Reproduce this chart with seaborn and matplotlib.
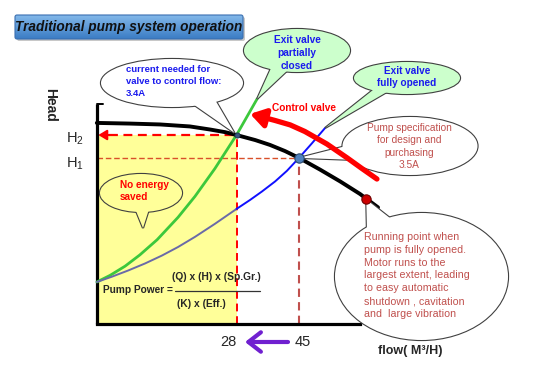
import numpy as np
import matplotlib
matplotlib.use("Agg")
import matplotlib.pyplot as plt
import matplotlib.transforms as mtransforms
from matplotlib import font_manager
from matplotlib.patches import Ellipse, Polygon, FancyBboxPatch
from matplotlib.colors import LinearSegmentedColormap
import seaborn as sns

sns.set_style("white")
plt.rcParams["font.family"] = ["Liberation Sans", "DejaVu Sans"]
installed = {f.name for f in font_manager.fontManager.ttflist}
narrow = "Liberation Sans Narrow" if "Liberation Sans Narrow" in installed else "Liberation Sans"

# pump curve and system curves, flow (x) vs head (y, arbitrary units)
pump_flow = [-10, -1, 7.2, 15.3, 20.8, 24.9, 28, 33.1, 37.1, 41.2, 45, 50.7, 56.2, 61.6, 66.5]
pump_head = [91.4, 91.1, 90.7, 89.8, 88.4, 87.2, 85.9, 83.6, 81.4, 78.6, 75.5, 70.2, 64.8, 59.1, 53.0]
closed_flow = [-10, -6.4, -2.3, 1.7, 6.4, 12.1, 16.7, 22.1, 28, 33.6]
closed_head = [19.1, 22.1, 26.3, 31.4, 38.3, 48.5, 58.0, 70.6, 85.9, 102.3]
open_flow = [-10, -5.9, -1.5, 3.1, 7.7, 12.1, 16.7, 22.1, 28, 31.7, 34.9, 38.5, 41.7, 45, 48.5, 52.1]
open_head = [19.1, 21.5, 24.3, 27.5, 31.1, 35.0, 39.6, 45.5, 52.3, 56.4, 60.2, 64.8, 69.6, 75.5, 82.1, 89.1]
valve_flow = [66.2, 62.1, 58.1, 52.6, 46.6, 42.6, 38.5, 34.9]
valve_head = [65.9, 70.7, 75.5, 81.8, 87.5, 90.5, 92.5, 94.1]
valve_tip = (31.7, 95.5)

q_partial, q_full = 28, 45
h2, h1 = 85.9, 75.5
run_point = (63.3, 56.6)
flow_ticks = [28, 45]
flow_max = 61.6
head_max = 100

fig = plt.figure(figsize=(5.35, 3.72), dpi=100)
ax = fig.add_axes([0, 0, 1, 1])
ax.axis("off")
ax.set_xlim(-36.34, 109.2)
ax.set_ylim(-21.82, 147.27)
# layout transform in image pixels, origin top-left
px = mtransforms.Affine2D().scale(1 / 535, -1 / 372).translate(0, 1) + fig.transFigure


def to_px(q, h):
    return px.inverted().transform(ax.transData.transform((q, h)))


# yellow area (energy used at partial flow)
ax.fill_between([-10, q_partial], 0, h2, color="#ffff99", lw=0, zorder=1)

# guide lines
ax.plot([q_partial, q_partial], [0, h2], color="#ff0000", ls=(0, (4, 2.5)), lw=1.4, zorder=2)
ax.plot([-6.8, q_partial], [h2, h2], color="#ff0000", ls=(0, (4, 2.5)), lw=1.6, zorder=2)
ax.annotate("", xy=(-9.6, h2), xytext=(-6.5, h2),
            arrowprops=dict(arrowstyle="-|>,head_length=0.5,head_width=0.3", color="#ff0000",
                            lw=1.5, mutation_scale=10, shrinkA=0, shrinkB=0), zorder=2)
ax.plot([-10, q_full], [h1, h1], color="#d9502a", ls=(0, (4, 2)), lw=1.0, zorder=2)
ax.plot([q_full, q_full], [0, h1], color="#c0504d", ls=(0, (4, 2.5)), lw=1.5, zorder=2)

# axes
ax.plot([-10, -10], [0, head_max], color="black", lw=2.3, solid_capstyle="butt", zorder=3)
ax.plot([-10, flow_max], [0, 0], color="black", lw=2.3, solid_capstyle="projecting", zorder=3)
ax.plot([-10, -8.3], [head_max, head_max], color="black", lw=1.4, zorder=3)

# system curves
sns.lineplot(x=closed_flow, y=closed_head, sort=False, color="#3cc83c", linewidth=2.0, ax=ax, zorder=3)
sns.lineplot(x=open_flow[:9], y=open_head[:9], sort=False, color="#6a6aa8", linewidth=1.4, ax=ax, zorder=3)
sns.lineplot(x=open_flow[8:], y=open_head[8:], sort=False, color="#1010ff", linewidth=1.4, ax=ax, zorder=3)
# pump curve
sns.lineplot(x=pump_flow, y=pump_head, sort=False, color="black", linewidth=2.8, ax=ax, zorder=4)


def callout(cx, cy, w, h, base, tip, face, z=5, edge="#404040"):
    pts = [base[0], tip, base[1]]
    ax.add_patch(Polygon(pts, closed=True, transform=px, fc=face, ec=edge, lw=1.6, zorder=z))
    ax.add_patch(Ellipse((cx, cy), w, h, transform=px, fc=face, ec=edge, lw=1.6, zorder=z))
    ax.add_patch(Polygon(pts, closed=True, transform=px, fc=face, ec="none", zorder=z + 0.1))
    ax.add_patch(Ellipse((cx, cy), w, h, transform=px, fc=face, ec="none", zorder=z + 0.1))


def block(lines, x, y0, dy, ha, z=5.5, **kw):
    for i, s in enumerate(lines):
        ax.text(x, y0 + i * dy, s, transform=px, ha=ha, va="center", zorder=z, **kw)


blue_txt = "#1a1aee"
red_txt = "#c0504d"

callout(172, 83, 142, 48, [(190, 102), (214, 98)], to_px(q_partial - 0.6, h2 + 1), "white")
block(["current needed for", "valve to control flow:", "3.4A"], 126, 70, 11.5, "left",
      color=blue_txt, fontsize=6.8, fontweight="bold")

callout(297, 50.5, 106, 43, [(272, 66), (290, 68)], to_px(closed_flow[-1], closed_head[-1]), "#ccffcc")
block(["Exit valve", "partially", "closed"], 297, 40, 13, "center",
      color=blue_txt, fontsize=7.3, fontweight="bold")

callout(407, 78, 106, 32, [(378, 86), (392, 89)], to_px(open_flow[-1], open_head[-1]), "#ccffcc")
block(["Exit valve", "fully opened"], 407, 71, 12.5, "center",
      color=blue_txt, fontsize=7.2, fontweight="bold")

callout(410, 146, 135, 58, [(350, 145), (357, 160)], to_px(q_full, h1), "white", z=4.5)
block(["Pump specification", "for design and", "purchasing", "3.5A"], 409, 128, 12.3, "center",
      z=4.7, color=red_txt, fontsize=7.3)

callout(421.5, 276.5, 173, 127, [(367, 232), (395, 222)], to_px(*run_point), "white")
block(["Running point when", "pump is fully opened.", "Motor runs to the", "largest extent, leading",
       "to easy automatic", "shutdown , cavitation", "and  large vibration"], 364, 237, 12.8, "left",
      color=red_txt, fontsize=7.7)

callout(141, 193, 82, 38, [(134, 206), (150, 206)], (143, 228), "#ffff99")
block(["No energy", "saved"], 120, 185, 12.5, "left", color="#ff0000", fontsize=7.2, fontweight="bold")

# control valve arrow
sns.lineplot(x=valve_flow, y=valve_head, sort=False, color="#ff0000", linewidth=3.8, ax=ax, zorder=6)
ax.annotate("", xy=valve_tip, xytext=(valve_flow[-1], valve_head[-1]),
            arrowprops=dict(arrowstyle="-|>,head_length=0.55,head_width=0.35", color="#ff0000",
                            lw=3.8, mutation_scale=16, shrinkA=0, shrinkB=0), zorder=6)
ax.text(304, 108, "Control valve", transform=px, ha="center", va="center",
        color="#ff0000", fontsize=7.3, fontweight="bold")

# operating points
sns.scatterplot(x=[q_partial], y=[h2], s=14, color="#34557d", edgecolor="#1d3350", linewidth=0.6, ax=ax, zorder=7)
sns.scatterplot(x=[q_full], y=[h1], s=45, color="#4f81bd", edgecolor="#2c4a70", linewidth=0.8, ax=ax, zorder=7)
sns.scatterplot(x=[run_point[0]], y=[run_point[1]], s=45, color="#cc0000", edgecolor="#700000",
                linewidth=0.8, ax=ax, zorder=7)

# title box
shadow = FancyBboxPatch((17, 17), 228, 24, boxstyle="round,pad=0,rounding_size=2", transform=px,
                        fc="#c8c8c8", ec="none", zorder=8)
ax.add_patch(shadow)
box = FancyBboxPatch((15, 15), 228, 24, boxstyle="round,pad=0,rounding_size=2", transform=px,
                     fc="none", ec="#3a6fb0", lw=0.8, zorder=9.5)
ax.add_patch(box)
cmap = LinearSegmentedColormap.from_list("title", ["#82b8ea", "#3b7cc4"])
im = ax.imshow(np.linspace(0, 1, 64)[:, None], cmap=cmap, extent=(15, 243, 39, 15), transform=px,
               aspect="auto", interpolation="bilinear", zorder=9)
im.set_clip_path(box)
ax.text(129, 27, "Traditional pump system operation", transform=px, ha="center", va="center",
        fontsize=11 if narrow != "Liberation Sans" else 9.8, fontweight="bold", fontstyle="italic",
        family=[narrow, "DejaVu Sans"], color="#111111", zorder=10)

# axis labels and ticks
ax.text(50, 105, "Head", transform=px, rotation=-90, ha="center", va="center",
        fontsize=10, fontweight="bold")
ax.annotate(r"$\mathregular{H_2}$", xy=(-10, h2), xytext=(-22, -4), textcoords="offset pixels",
            ha="center", va="center", fontsize=10.5)
ax.annotate(r"$\mathregular{H_1}$", xy=(-10, h1), xytext=(-22, -6), textcoords="offset pixels",
            ha="center", va="center", fontsize=10.5)
for v, dx in zip(flow_ticks, [-8, 4]):
    ax.annotate(str(v), xy=(v, 0), xytext=(dx, -18), textcoords="offset pixels",
                ha="center", va="center", fontsize=10.5)
ax.annotate("", xy=(245, 342), xytext=(288, 342), xycoords=px, textcoords=px,
            arrowprops=dict(arrowstyle="->,head_length=0.45,head_width=0.35", color="#7020d0",
                            lw=3, mutation_scale=20, shrinkA=0, shrinkB=0))
ax.text(410, 351, "flow( M³/H)", transform=px, ha="center", va="center", fontsize=9, fontweight="bold")

# pump power formula
ax.text(103, 290, "Pump Power =", transform=px, ha="left", va="center", fontsize=7.3, fontweight="bold", zorder=5)
ax.plot([175, 260], [291, 291], color="#333333", lw=0.9, transform=px, zorder=5)
ax.text(216, 277, "(Q) x (H) x (Sp.Gr.)", transform=px, ha="center", va="center", fontsize=7.4,
        fontweight="bold", zorder=5)
ax.text(201, 304, "(K) x (Eff.)", transform=px, ha="center", va="center", fontsize=7.4,
        fontweight="bold", zorder=5)

ax.set_xlim(-36.34, 109.2)
ax.set_ylim(-21.82, 147.27)
fig.savefig("out.png", dpi=100)
